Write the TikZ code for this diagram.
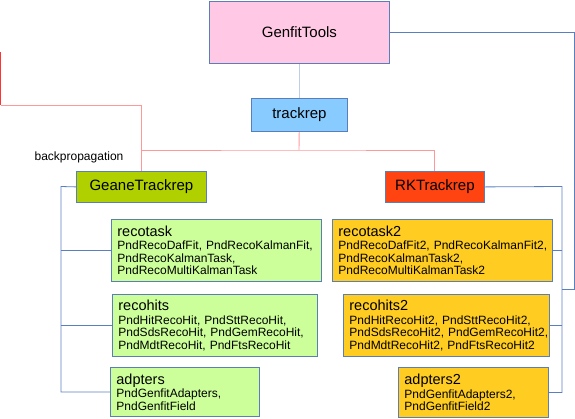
\documentclass[tikz,border=0pt]{standalone}
\usepackage{fontspec}
\setmainfont{Liberation Sans}
\usepackage{tikz}
\pgfdeclarelayer{background}
\pgfsetlayers{background,main}

\definecolor{boxline}{HTML}{5B7DB8}
\definecolor{gtpink}{HTML}{FFC8E4}
\definecolor{trblue}{HTML}{88CCFF}
\definecolor{geanegreen}{HTML}{B0D000}
\definecolor{rkred}{HTML}{FF4411}
\definecolor{lgreen}{HTML}{CCFF99}
\definecolor{gold}{HTML}{FFCC22}
\definecolor{busblue}{HTML}{5A7FC0}
\definecolor{paleblue}{HTML}{C0CCE8}
\definecolor{lightred}{HTML}{FF9999}
\definecolor{darkred}{HTML}{FF3333}

\newcommand{\hd}[1]{{\fontsize{14.5}{15}\selectfont #1}}

\tikzset{
  topbox/.style={draw=boxline, line width=0.8pt, anchor=north west, inner sep=0pt,
    font=\fontsize{15}{16}\selectfont},
  subbox/.style={draw=boxline, line width=0.8pt, anchor=north west, align=left,
    text width=#1, inner xsep=6pt, inner ysep=1pt, font=\fontsize{12}{12.5}\selectfont},
  bus/.style={draw=busblue, line width=0.8pt},
  redbus/.style={draw=lightred, line width=0.9pt}
}

\begin{document}
\begin{tikzpicture}[x=1pt,y=-1pt]
\useasboundingbox (0,0) rectangle (575,418);

% top of the tree
\node[topbox, fill=gtpink, minimum width=180pt, minimum height=62pt] (gt) at (209,1) {GenfitTools};
\node[topbox, fill=trblue, minimum width=96pt, minimum height=33pt] (tr) at (251,98) {trackrep};
\node[topbox, fill=geanegreen, minimum width=130pt, minimum height=31pt] (geane) at (76,171) {GeaneTrackrep};
\node[topbox, fill=rkred, minimum width=99pt, minimum height=31pt] (rk) at (385,171) {RKTrackrep};
\node[font=\fontsize{12}{12}\selectfont, inner sep=0pt] (bplabel) at (79,157) {backpropagation};

% left column
\node[subbox=198pt, fill=lgreen, minimum height=62pt] (recotask) at (111,219)
  {\hd{recotask}\\[1pt] \mbox{PndRecoDafFit, PndRecoKalmanFit,}\\ PndRecoKalmanTask,\\ PndRecoMultiKalmanTask};
\node[subbox=193pt, fill=lgreen, minimum height=62pt] (recohits) at (112,294)
  {\hd{recohits}\\[1pt] \mbox{PndHitRecoHit, PndSttRecoHit,}\\ \mbox{PndSdsRecoHit, PndGemRecoHit,}\\ \mbox{PndMdtRecoHit, PndFtsRecoHit}};
\node[subbox=137pt, fill=lgreen, minimum height=49pt] (adpters) at (110,367)
  {\hd{adpters}\\[1pt] PndGenfitAdapters,\\ PndGenfitField};

% right column
\node[subbox=208pt, fill=gold, minimum height=62pt] (recotask2) at (332,219)
  {\hd{recotask2}\\[1pt] \mbox{PndRecoDafFit2, PndRecoKalmanFit2,}\\ PndRecoKalmanTask2,\\ PndRecoMultiKalmanTask2};
\node[subbox=194pt, fill=gold, minimum height=62pt] (recohits2) at (343,294)
  {\hd{recohits2}\\[1pt] \mbox{PndHitRecoHit2, PndSttRecoHit2,}\\ \mbox{PndSdsRecoHit2, PndGemRecoHit2,}\\ \mbox{PndMdtRecoHit2, PndFtsRecoHit2}};
\node[subbox=138pt, fill=gold, minimum height=50pt] (adpters2) at (398,367)
  {\hd{adpters2}\\[1pt] PndGenfitAdapters2,\\ PndGenfitField2};

\begin{pgfonlayer}{background}
\coordinate (split) at (299,150);
\coordinate (bpturn) at (0.5,105);
\coordinate (bpend) at (0.5,52);
\coordinate (lbus) at (61,186.5);
\coordinate (rbus) at (562,186.5);
\coordinate (gtbus) at (574,32);

\draw[draw=paleblue, line width=0.8pt] (gt) -- (tr);
\draw[redbus] (tr) -- (split);
\draw[redbus] (geane.north) |- (split) -| (rk.north);
\draw[redbus] (geane.north) |- (bpturn);
\draw[draw=darkred, line width=0.9pt] (bpturn) -- (bpend);

\draw[bus] (geane.west) -- (lbus) |- (adpters.west);
\draw[bus] (lbus |- recotask.west) -- (recotask.west);
\draw[bus] (lbus |- recohits.west) -- (recohits.west);

\draw[bus] (rk.east) -- (rbus) |- (adpters2.east);
\draw[bus] (rbus |- recotask2.east) -- (recotask2.east);
\draw[bus] (rbus |- recohits2.east) -- (recohits2.east);
\draw[bus] (gt.east |- gtbus) -- (gtbus) -- ++(0,257) -- (rbus |- 0,289);
\end{pgfonlayer}
\end{tikzpicture}
\end{document}
